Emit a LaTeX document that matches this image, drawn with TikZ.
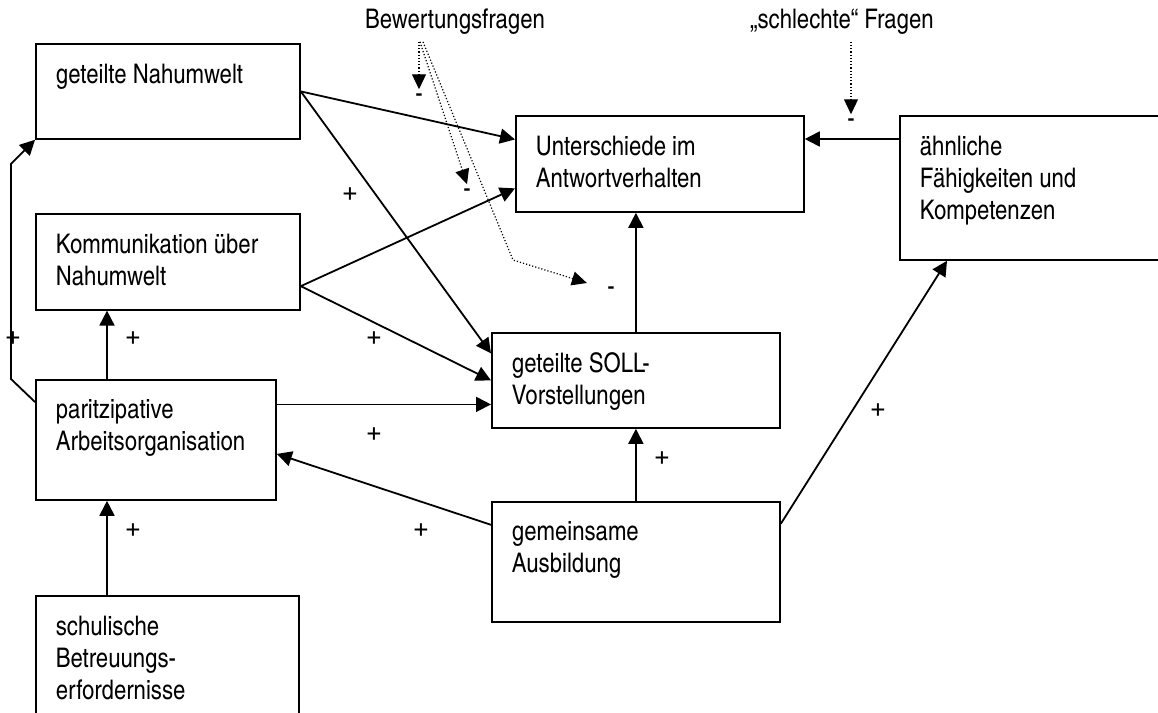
\documentclass[tikz,border=0pt]{standalone}
\usepackage{fontspec}
\setmainfont{texgyreheroscn-regular.otf}
\usetikzlibrary{arrows.meta, positioning, calc}

% text block inside a box: width, height, lines
\newcommand{\boxtext}[3]{\parbox[t][#2][t]{#1}{\raggedright #3}}

\begin{document}
\begin{tikzpicture}[
  x=0.5pt, y=-0.5pt,
  font=\fontsize{13.5}{16}\selectfont,
  box/.style={draw, line width=0.9pt, inner sep=10pt, anchor=north west},
  arr/.style={-{Triangle[length=7.5pt, width=7.5pt]}, line width=0.9pt},
  darr/.style={-{Triangle[length=7.5pt, width=7pt]}, line width=0.6pt,
               dash pattern=on 0.6pt off 1pt},
  sign/.style={inner sep=2pt},
  plus/.style={font=\fontsize{17}{20}\selectfont},
  node distance=36pt
]
  \clip (0,0) rectangle (1158,713);

  % left column
  \node[box] (gN) at (35,43) {\boxtext{112pt}{27.5pt}{geteilte Nahumwelt}};
  \node[box, below=36.5pt of gN] (kN) {\boxtext{112pt}{28pt}{Kommunikation über\\Nahumwelt}};
  \node[box] (pA) at (35,379) {\boxtext{100pt}{40pt}{paritzipative\\Arbeitsorganisation}};
  \node[box] (sB) at (35,595) {\boxtext{111.5pt}{45pt}{schulische\\Betreuungs-\\erfordernisse}};

  % middle and right
  \node[box] (uA) at (515,115) {\boxtext{124pt}{28pt}{Unterschiede im\\Antwortverhalten}};
  \node[box] (gS) at (491,332) {\boxtext{124pt}{27.5pt}{geteilte SOLL-\\Vorstellungen}};
  \node[box, below=of gS] (gA) {\boxtext{124pt}{40pt}{gemeinsame\\Ausbildung}};
  \node[box] (aF) at (899,115) {\boxtext{115.5pt}{52pt}{ähnliche\\Fähigkeiten und\\Kompetenzen}};

  % question labels and their signs
  \node (bew) at (455,22) {Bewertungsfragen};
  \node (sf)  at (842,22) {„schlechte“ Fragen};
  \node[sign] (m1) at (419,98)  {-};
  \node[sign] (m2) at (467,193) {-};
  \node[sign] (m3) at (611,291) {-};
  \node[sign] (m4) at (851,123) {-};

  \draw[darr] ([xshift=-18pt]bew.south) -- (m1.north);
  \draw[darr] ([xshift=-17.5pt]bew.south) -- (m2.north);
  \draw[darr] ([xshift=-16pt]bew.south) -- (513,260) -- ([xshift=-8pt,yshift=4pt]m3.west);
  \draw[darr] ([xshift=4.5pt]sf.south) -- (m4.north);

  % effects
  \draw[arr] (gN.east) -- ($(uA.north west)!0.25!(uA.south west)$);
  \draw[arr] (gN.east) -- ([yshift=13.5pt]gS.west);
  \draw[arr] ($(kN.north east)!0.75!(kN.south east)$) -- ($(uA.north west)!0.75!(uA.south west)$);
  \draw[arr] ($(kN.north east)!0.75!(kN.south east)$) -- (gS.west);
  \draw[arr] ([yshift=-12pt]gS.west -| pA.east) -- ([yshift=-12pt]gS.west);
  \draw[arr] ([xshift=36pt]pA.north west) -- ([xshift=36pt]kN.south west);
  \draw[arr] ([xshift=36pt]sB.north west) -- ([xshift=36pt]pA.south west);
  \draw[arr] ([yshift=-12pt]gA.north west) -- ([yshift=-7pt]pA.east);
  \draw[arr] (gA.north) -- (gS.south);
  \draw[arr] (gS.north) -- (gS.north |- uA.south);
  \draw[arr] ([yshift=-11.5pt]gA.north east) -- ([xshift=24pt]aF.south west);
  \draw[arr] ([yshift=-12pt]aF.north west) -- ([yshift=-12pt]aF.north west -| uA.east);
  \draw[arr] ([yshift=-11.5pt]pA.north west) -- ++(-24,-23)
             -- ([xshift=-12pt,yshift=-12pt]gN.south west) -- (gN.south west);

  % plus signs
  \foreach \x/\y [count=\i] in {13/339, 133/339, 350/195, 374/339, 374/435,
                                421/531, 133/531, 662/459, 878/411}
    \node[plus] (plus\i) at (\x,\y) {+};
\end{tikzpicture}
\end{document}
